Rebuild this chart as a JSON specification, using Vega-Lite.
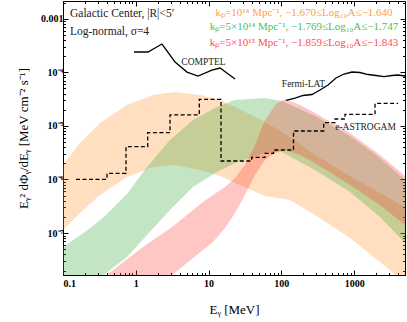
{
  "$schema": "https://vega.github.io/schema/vega-lite/v6.json",
  "autosize": "none",
  "width": 342,
  "height": 274,
  "padding": {"left": 63, "top": 1, "right": 2, "bottom": 47},
  "config": {
    "view": {"stroke": "#000", "strokeWidth": 1},
    "font": "Liberation Serif",
    "axis": {"grid": false, "domainColor": "#000", "tickColor": "#000", "labelColor": "#000", "titleColor": "#000", "labelFont": "Liberation Serif", "titleFont": "Liberation Serif", "labelFontWeight": "bold", "labelFontSize": 10, "titleFontWeight": "normal", "titleFontSize": 12}
  },
  "datasets": {
    "bands": [
      {"band": "o", "x": 0.1, "hi": 1.86e-6, "lo": 1.14e-7},
      {"band": "o", "x": 0.1714, "hi": 4.79e-6, "lo": 2.37e-7},
      {"band": "o", "x": 0.3224, "hi": 1.13e-5, "lo": 5.14e-7},
      {"band": "o", "x": 0.7576, "hi": 2.45e-5, "lo": 1.11e-6},
      {"band": "o", "x": 1.724, "hi": 3.77e-5, "lo": 1.71e-6},
      {"band": "o", "x": 3.458, "hi": 4.29e-5, "lo": 1.86e-6},
      {"band": "o", "x": 7.627, "hi": 3.77e-5, "lo": 1.5e-6},
      {"band": "o", "x": 14.36, "hi": 3.04e-5, "lo": 1.16e-6},
      {"band": "o", "x": 23.08, "hi": 2.25e-5, "lo": 8.6e-7},
      {"band": "o", "x": 59.64, "hi": 1.18e-5, "lo": 4.92e-7},
      {"band": "o", "x": 131.5, "hi": 6.2e-6, "lo": 4.14e-7},
      {"band": "o", "x": 290.1, "hi": 2.86e-6, "lo": 2.18e-7},
      {"band": "o", "x": 877.9, "hi": 1.16e-6, "lo": 8.1e-8},
      {"band": "o", "x": 2267, "hi": 5.6e-7, "lo": 2.89e-8},
      {"band": "o", "x": 5000, "hi": 3.07e-7, "lo": 1.17e-8},
      {"band": "g", "x": 0.1, "hi": 5.5e-8, "lo": 4.36e-9},
      {"band": "g", "x": 0.2006, "hi": 1.05e-7, "lo": 8.68e-9},
      {"band": "g", "x": 0.3777, "hi": 2.08e-7, "lo": 1.72e-8},
      {"band": "g", "x": 0.7576, "hi": 5.36e-7, "lo": 3.58e-8},
      {"band": "g", "x": 1.426, "hi": 1.71e-6, "lo": 9.21e-8},
      {"band": "g", "x": 2.953, "hi": 5.45e-6, "lo": 2.7e-7},
      {"band": "g", "x": 6.111, "hi": 1.29e-5, "lo": 7.24e-7},
      {"band": "g", "x": 13.06, "hi": 2.25e-5, "lo": 1.38e-6},
      {"band": "g", "x": 23.08, "hi": 3.04e-5, "lo": 2.03e-6},
      {"band": "g", "x": 59.64, "hi": 3.31e-5, "lo": 3.12e-6},
      {"band": "g", "x": 102.1, "hi": 2.91e-5, "lo": 3.26e-6},
      {"band": "g", "x": 290.1, "hi": 1.53e-5, "lo": 1.5e-6},
      {"band": "g", "x": 877.9, "hi": 6.48e-6, "lo": 5.84e-7},
      {"band": "g", "x": 2267, "hi": 2.52e-6, "lo": 2.0e-7},
      {"band": "g", "x": 5000, "hi": 9.78e-7, "lo": 6.53e-8},
      {"band": "r", "x": 0.3224, "hi": 1.33e-8, "lo": 1.01e-9},
      {"band": "r", "x": 1.257, "hi": 5.5e-8, "lo": 4.55e-9},
      {"band": "r", "x": 3.146, "hi": 1.3e-7, "lo": 1.65e-8},
      {"band": "r", "x": 8.386, "hi": 3.8e-7, "lo": 4.83e-8},
      {"band": "r", "x": 11.51, "hi": 5.14e-7, "lo": 6.82e-8},
      {"band": "r", "x": 16.82, "hi": 7.24e-7, "lo": 1.24e-7},
      {"band": "r", "x": 23.08, "hi": 1.07e-6, "lo": 2.37e-7},
      {"band": "r", "x": 31.67, "hi": 1.86e-6, "lo": 5.14e-7},
      {"band": "r", "x": 43.46, "hi": 4.4e-6, "lo": 1.21e-6},
      {"band": "r", "x": 59.64, "hi": 1.29e-5, "lo": 2.31e-6},
      {"band": "r", "x": 84.45, "hi": 2.56e-5, "lo": 3.26e-6},
      {"band": "r", "x": 112.3, "hi": 3.17e-5, "lo": 3.55e-6},
      {"band": "r", "x": 180.5, "hi": 2.45e-5, "lo": 2.86e-6},
      {"band": "r", "x": 290.1, "hi": 1.74e-5, "lo": 2.03e-6},
      {"band": "r", "x": 877.9, "hi": 7.37e-6, "lo": 7.89e-7},
      {"band": "r", "x": 2267, "hi": 2.86e-6, "lo": 3.34e-7},
      {"band": "r", "x": 5000, "hi": 1.16e-6, "lo": 1.42e-7}
    ],
    "curves": [
      {"name": "COMPTEL", "x": 0.945, "y": 2.39e-4},
      {"name": "COMPTEL", "x": 1.47, "y": 2.39e-4},
      {"name": "COMPTEL", "x": 2.29, "y": 3.37e-4},
      {"name": "COMPTEL", "x": 3.46, "y": 1.56e-4},
      {"name": "COMPTEL", "x": 5.06, "y": 1.01e-4},
      {"name": "COMPTEL", "x": 7.16, "y": 8.5e-5},
      {"name": "COMPTEL", "x": 11.1, "y": 1.1e-4},
      {"name": "COMPTEL", "x": 14.4, "y": 1.2e-4},
      {"name": "COMPTEL", "x": 23.1, "y": 7.5e-5},
      {"name": "Fermi", "x": 115.9, "y": 2.98e-5},
      {"name": "Fermi", "x": 154.1, "y": 3.31e-5},
      {"name": "Fermi", "x": 198.5, "y": 3.69e-5},
      {"name": "Fermi", "x": 263.8, "y": 3.85e-5},
      {"name": "Fermi", "x": 339.8, "y": 4.67e-5},
      {"name": "Fermi", "x": 437.7, "y": 5.79e-5},
      {"name": "Fermi", "x": 563.6, "y": 7.82e-5},
      {"name": "Fermi", "x": 726.1, "y": 9.29e-5},
      {"name": "Fermi", "x": 935.2, "y": 1.012e-4},
      {"name": "Fermi", "x": 1204, "y": 9.91e-5},
      {"name": "Fermi", "x": 1551, "y": 9.09e-5},
      {"name": "Fermi", "x": 1998, "y": 8.71e-5},
      {"name": "Fermi", "x": 2573, "y": 8.34e-5},
      {"name": "Fermi", "x": 3315, "y": 8.71e-5},
      {"name": "Fermi", "x": 4008, "y": 8.9e-5},
      {"name": "Fermi", "x": 5000, "y": 8.52e-5}
    ],
    "astrogam": [
      {"x": 0.1509, "y": 1.008e-6},
      {"x": 0.4024, "y": 1.3e-6},
      {"x": 0.7338, "y": 4.09e-6},
      {"x": 1.458, "y": 7.46e-6},
      {"x": 2.953, "y": 1.6e-5},
      {"x": 7.46, "y": 3.13e-5},
      {"x": 14.82, "y": 2.21e-6},
      {"x": 39.14, "y": 2.59e-6},
      {"x": 59.64, "y": 3.08e-6},
      {"x": 78.04, "y": 3.55e-6},
      {"x": 146.9, "y": 8.03e-6},
      {"x": 382, "y": 1.147e-5},
      {"x": 546.1, "y": 1.345e-5},
      {"x": 749.3, "y": 1.645e-5},
      {"x": 1936, "y": 2.64e-5},
      {"x": 4008, "y": 2.64e-5}
    ],
    "labelsL": [
      {"t": "Galactic Center, |R|<5′", "x": 0.1248, "y": 1.224e-3},
      {"t": "Log-normal, σ=4", "x": 0.1248, "y": 5.72e-4}
    ],
    "labelsC": [
      {"t": "COMPTEL", "x": 8.52, "y": 1.576e-4, "c": "k", "s": 9.5},
      {"t": "Fermi-LAT", "x": 201.6, "y": 5.97e-5, "c": "k", "s": 9.5},
      {"t": "e-ASTROGAM", "x": 1434, "y": 9.66e-6, "c": "k", "s": 9.5},
      {"t": "kₚ=10¹⁴ Mpc⁻¹, −1.670≤Log₁₀A≤−1.640", "x": 204.8, "y": 1.293e-3, "c": "o", "s": 11},
      {"t": "kₚ=5×10¹⁴ Mpc⁻¹, −1.769≤Log₁₀A≤−1.747", "x": 204.8, "y": 6.91e-4, "c": "g", "s": 11},
      {"t": "kₚ=5×10¹⁵ Mpc⁻¹, −1.859≤Log₁₀A≤−1.843", "x": 204.8, "y": 3.47e-4, "c": "r", "s": 11}
    ]
  },
  "layer": [
    {
      "data": {"name": "bands"},
      "mark": {"type": "area", "clip": true, "fillOpacity": 0.28, "strokeOpacity": 0.3, "strokeWidth": 0.8},
      "encoding": {
        "x": {"field": "x", "type": "quantitative",
          "scale": {"type": "log", "domain": [0.1, 5000], "nice": false},
          "axis": {"orient": "bottom", "title": "Eᵧ [MeV]", "titlePadding": 15, "labelPadding": 8, "titleFontSize": 13,
            "values": [0.1,0.2,0.3,0.4,0.5,0.6,0.7,0.8,0.9,1,2,3,4,5,6,7,8,9,10,20,30,40,50,60,70,80,90,100,200,300,400,500,600,700,800,900,1000,2000,3000,4000,5000],
            "labelExpr": "indexof([0.1,1,10,100,1000], datum.value) >= 0 ? format(datum.value, '') : ''",
            "tickSize": {"condition": {"test": "indexof([0.1,1,10,100,1000], datum.value) >= 0", "value": -5}, "value": -2.5}}},
        "y": {"field": "hi", "type": "quantitative",
          "scale": {"type": "log", "domain": [1.65e-8, 2.14e-3], "nice": false},
          "axis": {"orient": "left", "title": "Eᵧ² dΦᵧ/dEᵧ [MeV cm⁻² s⁻¹]", "titleX": -33, "titleFontSize": 13, "labelPadding": 5,
            "values": [2e-8,3e-8,4e-8,5e-8,6e-8,7e-8,8e-8,9e-8,1e-7,2e-7,3e-7,4e-7,5e-7,6e-7,7e-7,8e-7,9e-7,1e-6,2e-6,3e-6,4e-6,5e-6,6e-6,7e-6,8e-6,9e-6,1e-5,2e-5,3e-5,4e-5,5e-5,6e-5,7e-5,8e-5,9e-5,1e-4,2e-4,3e-4,4e-4,5e-4,6e-4,7e-4,8e-4,9e-4,1e-3,2e-3],
            "labelExpr": "datum.value==1e-3?'0.001':datum.value==1e-4?'10⁻⁴':datum.value==1e-5?'10⁻⁵':datum.value==1e-6?'10⁻⁶':datum.value==1e-7?'10⁻⁷':''",
            "tickSize": {"condition": {"test": "indexof([1e-7,1e-6,1e-5,1e-4,1e-3], datum.value) >= 0", "value": -5}, "value": -2.5}}},
        "y2": {"field": "lo"},
        "color": {"field": "band", "type": "nominal", "legend": null,
          "scale": {"domain": ["o", "g", "r"], "range": ["#ff8c1a", "#2ca02c", "#ff3333"]}}
      }
    },
    {
      "data": {"name": "bands"},
      "mark": {"type": "point", "opacity": 0},
      "encoding": {
        "x": {"field": "x", "type": "quantitative",
          "axis": {"orient": "top", "title": null, "labels": false,
            "values": [0.1,0.2,0.3,0.4,0.5,0.6,0.7,0.8,0.9,1,2,3,4,5,6,7,8,9,10,20,30,40,50,60,70,80,90,100,200,300,400,500,600,700,800,900,1000,2000,3000,4000,5000],
            "tickSize": {"condition": {"test": "indexof([0.1,1,10,100,1000], datum.value) >= 0", "value": -5}, "value": -2.5}}},
        "y": {"field": "hi", "type": "quantitative",
          "axis": {"orient": "right", "title": null, "labels": false,
            "values": [2e-8,3e-8,4e-8,5e-8,6e-8,7e-8,8e-8,9e-8,1e-7,2e-7,3e-7,4e-7,5e-7,6e-7,7e-7,8e-7,9e-7,1e-6,2e-6,3e-6,4e-6,5e-6,6e-6,7e-6,8e-6,9e-6,1e-5,2e-5,3e-5,4e-5,5e-5,6e-5,7e-5,8e-5,9e-5,1e-4,2e-4,3e-4,4e-4,5e-4,6e-4,7e-4,8e-4,9e-4,1e-3,2e-3],
            "tickSize": {"condition": {"test": "indexof([1e-7,1e-6,1e-5,1e-4,1e-3], datum.value) >= 0", "value": -5}, "value": -2.5}}}
      }
    },
    {
      "data": {"name": "curves"},
      "mark": {"type": "line", "clip": true, "color": "#000", "strokeWidth": 1.3},
      "encoding": {
        "x": {"field": "x", "type": "quantitative", "axis": null},
        "y": {"field": "y", "type": "quantitative", "axis": null},
        "detail": {"field": "name"}
      }
    },
    {
      "data": {"name": "astrogam"},
      "mark": {"type": "line", "clip": true, "color": "#000", "strokeWidth": 1.3, "interpolate": "step-after", "strokeDash": [4, 2.5]},
      "encoding": {
        "x": {"field": "x", "type": "quantitative", "axis": null},
        "y": {"field": "y", "type": "quantitative", "axis": null}
      }
    },
    {
      "data": {"name": "labelsL"},
      "mark": {"type": "text", "font": "Liberation Serif", "baseline": "middle", "align": "left", "fontSize": 11.5, "color": "#222222"},
      "encoding": {
        "x": {"field": "x", "type": "quantitative", "axis": null},
        "y": {"field": "y", "type": "quantitative", "axis": null},
        "text": {"field": "t"}
      }
    },
    {
      "data": {"name": "labelsC"},
      "mark": {"type": "text", "font": "Liberation Serif", "baseline": "middle", "align": "center"},
      "encoding": {
        "x": {"field": "x", "type": "quantitative", "axis": null},
        "y": {"field": "y", "type": "quantitative", "axis": null},
        "text": {"field": "t"},
        "size": {"field": "s", "type": "quantitative", "scale": null},
        "color": {"field": "c", "type": "nominal", "legend": null,
          "scale": {"domain": ["k", "o", "g", "r"], "range": ["#222222", "#ffa040", "#4fc04f", "#ff4d4d"]}}
      }
    }
  ],
  "resolve": {"axis": {"x": "independent", "y": "independent"}, "scale": {"color": "independent"}}
}
